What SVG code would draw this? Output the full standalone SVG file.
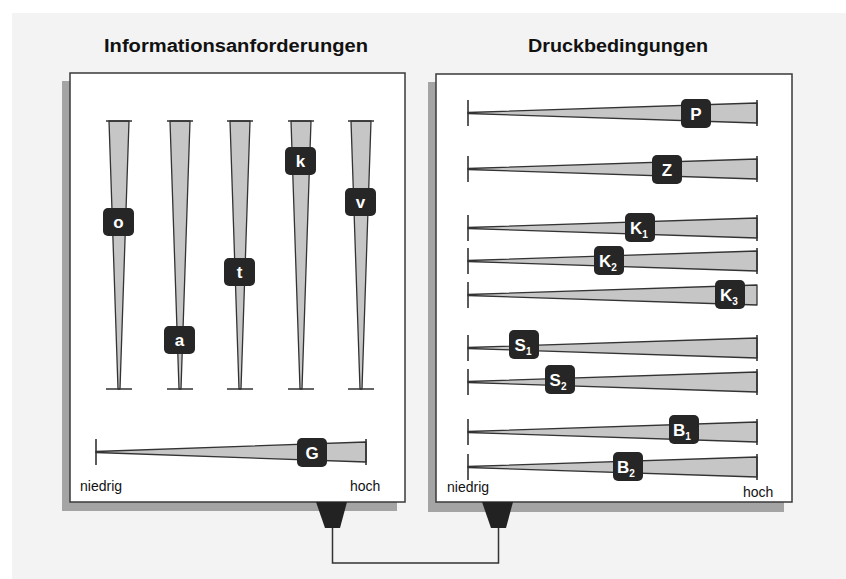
<svg xmlns="http://www.w3.org/2000/svg" width="846" height="579" viewBox="0 0 846 579">
<defs>
<style>
.bg{fill:#f3f3f3}
.panel{fill:#ffffff;stroke:#3a3a3a;stroke-width:1.5}
.shadow{fill:#a4a4a4}
.wedge{fill:#c6c6c6;stroke:#333;stroke-width:1.3;stroke-linejoin:round}
.cap{stroke:#333;stroke-width:1.6;fill:none}
.box{fill:#262626}
.lbl{fill:#fff;font-family:"Liberation Sans",Arial,sans-serif;font-weight:bold;font-size:17px;text-anchor:middle}
.sub{font-size:10px}
.title{font-family:"Liberation Sans",Arial,sans-serif;font-weight:bold;font-size:18px;fill:#111}
.axis{font-family:"Liberation Sans",Arial,sans-serif;font-size:14px;fill:#111}
.plug{fill:#222}
.wire{fill:none;stroke:#333;stroke-width:1.5}
</style>
</defs>
<rect class="bg" x="12" y="13" width="834" height="566"/>

<text class="title" x="104" y="52" textLength="264" lengthAdjust="spacingAndGlyphs">Informationsanforderungen</text>
<text class="title" x="528" y="52" textLength="180" lengthAdjust="spacingAndGlyphs">Druckbedingungen</text>

<g id="panel-left">
<rect class="shadow" x="62" y="81" width="335" height="430"/>
<rect class="panel" x="70" y="73" width="335" height="429"/>
</g>
<g id="panel-right">
<rect class="shadow" x="428" y="82" width="356" height="430"/>
<rect class="panel" x="436" y="74" width="356" height="428"/>
</g>

<g id="bar-o">
<polygon class="wedge" points="109,121 129,121 120,389 118,389"/>
<path class="cap" d="M106,121H132M106,389H132"/>
<rect class="box" x="103" y="208" width="31" height="28" rx="5"/>
<text class="lbl" x="118.5" y="228">o</text>
</g>
<g id="bar-a">
<polygon class="wedge" points="170,121 190,121 181,389 179,389"/>
<path class="cap" d="M167,121H193M167,389H193"/>
<rect class="box" x="164" y="326" width="31" height="28" rx="5"/>
<text class="lbl" x="179.5" y="346">a</text>
</g>
<g id="bar-t">
<polygon class="wedge" points="230,121 250,121 241,389 239,389"/>
<path class="cap" d="M227,121H253M227,389H253"/>
<rect class="box" x="224" y="258" width="31" height="28" rx="5"/>
<text class="lbl" x="239.5" y="278">t</text>
</g>
<g id="bar-k">
<polygon class="wedge" points="291,121 311,121 302,389 300,389"/>
<path class="cap" d="M288,121H314M288,389H314"/>
<rect class="box" x="285" y="147" width="31" height="28" rx="5"/>
<text class="lbl" x="300.5" y="167">k</text>
</g>
<g id="bar-v">
<polygon class="wedge" points="351,121 371,121 362,389 360,389"/>
<path class="cap" d="M348,121H374M348,389H374"/>
<rect class="box" x="345" y="188" width="31" height="28" rx="5"/>
<text class="lbl" x="360.5" y="208">v</text>
</g>
<g id="bar-G">
<polygon class="wedge" points="96,451.5 366,442 366,462 96,452.5"/>
<path class="cap" d="M96,439V465M366,439V465"/>
<rect class="box" x="297" y="438" width="30" height="29" rx="5"/>
<text class="lbl" x="312" y="458.5">G</text>
</g>
<g id="axis-left">
<text class="axis" x="80" y="491">niedrig</text>
<text class="axis" x="350" y="491">hoch</text>
</g>

<g id="bar-P">
<polygon class="wedge" points="468,112.5 757,103 757,123 468,113.5"/>
<path class="cap" d="M468,100V126M757,100V126"/>
<rect class="box" x="681" y="99" width="30" height="29" rx="5"/>
<text class="lbl" x="696" y="119.5">P</text>
</g>
<g id="bar-Z">
<polygon class="wedge" points="468,168.5 757,159 757,179 468,169.5"/>
<path class="cap" d="M468,156V182M757,156V182"/>
<rect class="box" x="652" y="155" width="30" height="29" rx="5"/>
<text class="lbl" x="667" y="175.5">Z</text>
</g>
<g id="bar-K1">
<polygon class="wedge" points="468,227.5 757,218 757,238 468,228.5"/>
<path class="cap" d="M468,215V241M757,215V241"/>
<rect class="box" x="625" y="213" width="30" height="29" rx="5"/>
<text class="lbl" x="639" y="233.5">K<tspan class="sub" dy="4">1</tspan></text>
</g>
<g id="bar-K2">
<polygon class="wedge" points="468,260.5 757,251 757,271 468,261.5"/>
<path class="cap" d="M468,248V274M757,248V274"/>
<rect class="box" x="594" y="246" width="30" height="29" rx="5"/>
<text class="lbl" x="608" y="266.5">K<tspan class="sub" dy="4">2</tspan></text>
</g>
<g id="bar-K3">
<polygon class="wedge" points="468,294.5 757,285 757,305 468,295.5"/>
<path class="cap" d="M468,282V308"/>
<rect class="box" x="715" y="280" width="30" height="29" rx="5"/>
<text class="lbl" x="729" y="300.5">K<tspan class="sub" dy="4">3</tspan></text>
</g>
<g id="bar-S1">
<polygon class="wedge" points="468,347.5 757,338 757,358 468,348.5"/>
<path class="cap" d="M468,335V361M757,335V361"/>
<rect class="box" x="509" y="330" width="30" height="29" rx="5"/>
<text class="lbl" x="523" y="350.5">S<tspan class="sub" dy="4">1</tspan></text>
</g>
<g id="bar-S2">
<polygon class="wedge" points="468,381.5 757,372 757,392 468,382.5"/>
<path class="cap" d="M468,369V395M757,369V395"/>
<rect class="box" x="545" y="365" width="30" height="29" rx="5"/>
<text class="lbl" x="558" y="385.5">S<tspan class="sub" dy="4">2</tspan></text>
</g>
<g id="bar-B1">
<polygon class="wedge" points="468,431.5 757,422 757,442 468,432.5"/>
<path class="cap" d="M468,419V445M757,419V445"/>
<rect class="box" x="669" y="415" width="30" height="29" rx="5"/>
<text class="lbl" x="682" y="435.5">B<tspan class="sub" dy="4">1</tspan></text>
</g>
<g id="bar-B2">
<polygon class="wedge" points="468,466.5 757,457 757,477 468,467.5"/>
<path class="cap" d="M468,454V480M757,454V480"/>
<rect class="box" x="613" y="452" width="30" height="29" rx="5"/>
<text class="lbl" x="626" y="472.5">B<tspan class="sub" dy="4">2</tspan></text>
</g>
<g id="axis-right">
<text class="axis" x="447" y="492">niedrig</text>
<text class="axis" x="743" y="497">hoch</text>
</g>

<g id="plug-left">
<polygon class="plug" points="316,502 347,502 340,528 325,528"/>
</g>
<g id="plug-right">
<polygon class="plug" points="482,502 513,502 506,528 491,528"/>
</g>
<g id="connectors">
<path class="wire" d="M332.5,528V563H498.5V528"/>
</g>
</svg>
